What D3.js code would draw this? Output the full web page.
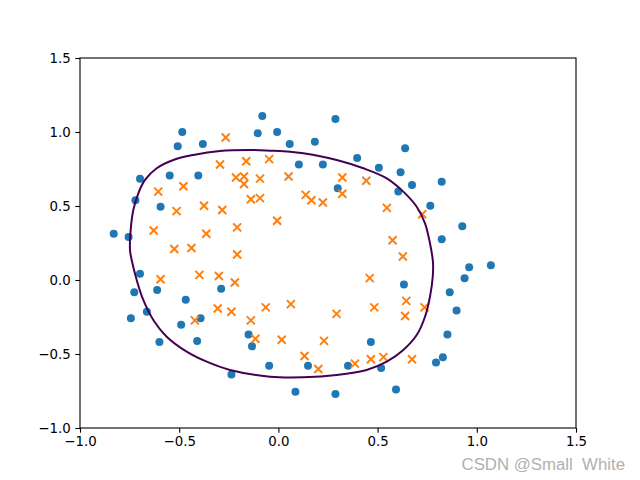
<!DOCTYPE html>
<html>
<head>
<meta charset="utf-8">
<script src="https://cdn.jsdelivr.net/npm/d3@7"></script>
<style>
  html, body { margin: 0; padding: 0; background: #fff; }
  svg { display: block; }
</style>
</head>
<body>
<script>
// ---- data (microchip test scores) ----
const x1Values = [0.051267,-0.092742,-0.21371,-0.375,-0.51325,-0.52477,-0.39804,-0.30588,0.016705,0.13191,0.38537,0.52938,0.63882,0.73675,0.54666,0.322,0.16647,-0.046659,-0.17339,-0.47869,-0.60541,-0.62846,-0.59389,-0.42108,-0.11578,0.20104,0.46601,0.67339,-0.13882,-0.29435,-0.26555,-0.16187,-0.17339,-0.28283,-0.36348,-0.30012,-0.23675,-0.06394,0.062788,0.22984,0.2932,0.48329,0.64459,0.46025,0.6273,0.57546,0.72523,0.22408,0.44297,0.322,0.13767,-0.0063364,-0.092742,-0.20795,-0.20795,-0.43836,-0.21947,-0.13882,
0.18376,0.22408,0.29896,0.50634,0.61578,0.60426,0.76555,0.92684,0.82316,0.96141,0.93836,0.86348,0.89804,0.85196,0.82892,0.79435,0.59274,0.51786,0.46601,0.35081,0.28744,0.085829,0.14919,-0.13306,-0.40956,-0.39228,-0.74366,-0.69758,-0.75518,-0.69758,-0.4038,-0.38076,-0.50749,-0.54781,0.10311,0.057028,-0.10426,-0.081221,0.28744,0.39689,0.63882,0.82316,0.67339,1.0709,-0.046659,-0.23675,-0.15035,-0.49021,-0.46717,-0.28859,-0.61118,-0.66302,-0.59965,-0.72638,-0.83007,-0.72062,-0.59389,-0.48445,-0.0063364,0.63265];
const x2Values = [0.69956,0.68494,0.69225,0.50219,0.46564,0.2098,0.034357,-0.19225,-0.40424,-0.51389,-0.56506,-0.5212,-0.24342,-0.18494,0.48757,0.5826,0.53874,0.81652,0.69956,0.63377,0.59722,0.33406,0.005117,-0.27266,-0.39693,-0.60161,-0.53582,-0.53582,0.54605,0.77997,0.96272,0.8019,0.64839,0.47295,0.31213,0.027047,-0.21418,-0.18494,-0.16301,-0.41155,-0.2288,-0.18494,-0.14108,0.012427,0.15863,0.26827,0.44371,0.52412,0.67032,0.69225,0.57529,0.39985,0.55336,0.35541,0.17266,0.21652,-0.016813,-0.27266,
0.93348,0.77997,0.61915,0.75804,0.7288,0.59722,0.50219,0.3633,0.27558,0.085526,0.012427,-0.082602,-0.20687,-0.36769,-0.5212,-0.55775,-0.7405,-0.5943,-0.41886,-0.57968,-0.76974,-0.75512,-0.57968,-0.4481,-0.41155,-0.25804,-0.25804,0.041667,0.2902,0.68494,0.70687,0.91886,0.90424,0.70687,0.77997,0.91886,0.99196,1.1089,1.087,0.82383,0.88962,0.66301,0.64108,0.10015,-0.57968,-0.63816,-0.36769,-0.3019,-0.13377,-0.0599,-0.067251,-0.21418,-0.41886,-0.082602,0.31213,0.53874,0.49488,0.99927,0.99927,-0.030612];
const labels = [].concat(new Array(58).fill(1), new Array(60).fill(0));
// decision boundary (data units), clockwise
const boundaryX = [-0.1265,-0.0423,0.0585,0.1255,0.2938,0.428,0.546,0.6295,0.697,0.739,0.764,0.779,0.778,0.764,0.739,0.697,0.6295,0.546,0.445,0.294,0.1255,-0.0423,-0.244,-0.3614,-0.4622,-0.563,-0.6305,-0.681,-0.7142,-0.7394,-0.748,-0.7445,-0.7313,-0.706,-0.6724,-0.6134,-0.5297,-0.429,-0.2944];
const boundaryY = [0.878,0.874,0.867,0.856,0.811,0.755,0.687,0.597,0.495,0.383,0.248,0.122,0.022,-0.113,-0.248,-0.372,-0.473,-0.552,-0.608,-0.642,-0.657,-0.653,-0.608,-0.552,-0.484,-0.383,-0.270,-0.135,0.0,0.135,0.203,0.338,0.473,0.586,0.676,0.755,0.811,0.845,0.872];
const tickValues = [-1.0, -0.5, 0.0, 0.5, 1.0, 1.5];

// ---- layout ----
const W = 640, Hh = 480;
const L = 80, R = 576, T = 58, B = 428;
const svg = d3.select("body").append("svg").attr("width", W).attr("height", Hh);
const x = d3.scaleLinear().domain([-1, 1.5]).range([L, R]);
const y = d3.scaleLinear().domain([-1, 1.5]).range([B, T]);
const fontFam = "'DejaVu Sans', sans-serif";

// scatter: label 0 (blue circles) first, then label 1 (orange crosses)
const idx = d3.range(x1Values.length);
svg.append("g").selectAll("circle")
  .data(idx.filter(i => labels[i] === 0)).join("circle")
  .attr("cx", i => x(x1Values[i])).attr("cy", i => y(x2Values[i]))
  .attr("r", 4).attr("fill", "#1f77b4");
const s = 4;
svg.append("g").selectAll("path")
  .data(idx.filter(i => labels[i] === 1)).join("path")
  .attr("d", i => {
    const cx = x(x1Values[i]), cy = y(x2Values[i]);
    return `M${cx - s},${cy - s}L${cx + s},${cy + s}M${cx - s},${cy + s}L${cx + s},${cy - s}`;
  })
  .attr("stroke", "#ff7f0e").attr("stroke-width", 2).attr("fill", "none");

// decision boundary
const line = d3.line().x(i => x(boundaryX[i])).y(i => y(boundaryY[i]))
  .curve(d3.curveCatmullRomClosed.alpha(0.5));
svg.append("path").datum(d3.range(boundaryX.length))
  .attr("d", line).attr("fill", "none")
  .attr("stroke", "#440154").attr("stroke-width", 2);

// axes
const xAxis = d3.axisBottom(x).tickValues(tickValues).tickFormat(d3.format(".1f"))
  .tickSize(4.67).tickPadding(4.2);
const yAxis = d3.axisLeft(y).tickValues(tickValues).tickFormat(d3.format(".1f"))
  .tickSize(4.67).tickPadding(4.67);
const gxA = svg.append("g").attr("transform", `translate(0,${B})`).call(xAxis);
const gyA = svg.append("g").attr("transform", `translate(${L},0)`).call(yAxis);
[gxA, gyA].forEach(g => {
  g.select(".domain").remove();
  g.selectAll("line").attr("stroke", "#000").attr("stroke-width", 1.1);
  g.selectAll("text").attr("font-family", fontFam).attr("font-size", "13.33px").attr("fill", "#000");
});
svg.append("rect").attr("x", L).attr("y", T).attr("width", R - L).attr("height", B - T)
  .attr("fill", "none").attr("stroke", "#000").attr("stroke-width", 1.1);

// watermark
svg.append("text").attr("x", 625).attr("y", 469.5).attr("text-anchor", "end")
  .attr("font-family", "'Liberation Sans', Arial, sans-serif").attr("font-size", "16.8px")
  .attr("fill", "#b0b0b0").style("white-space", "pre")
  .text("CSDN @Small  White");
</script>
</body>
</html>
